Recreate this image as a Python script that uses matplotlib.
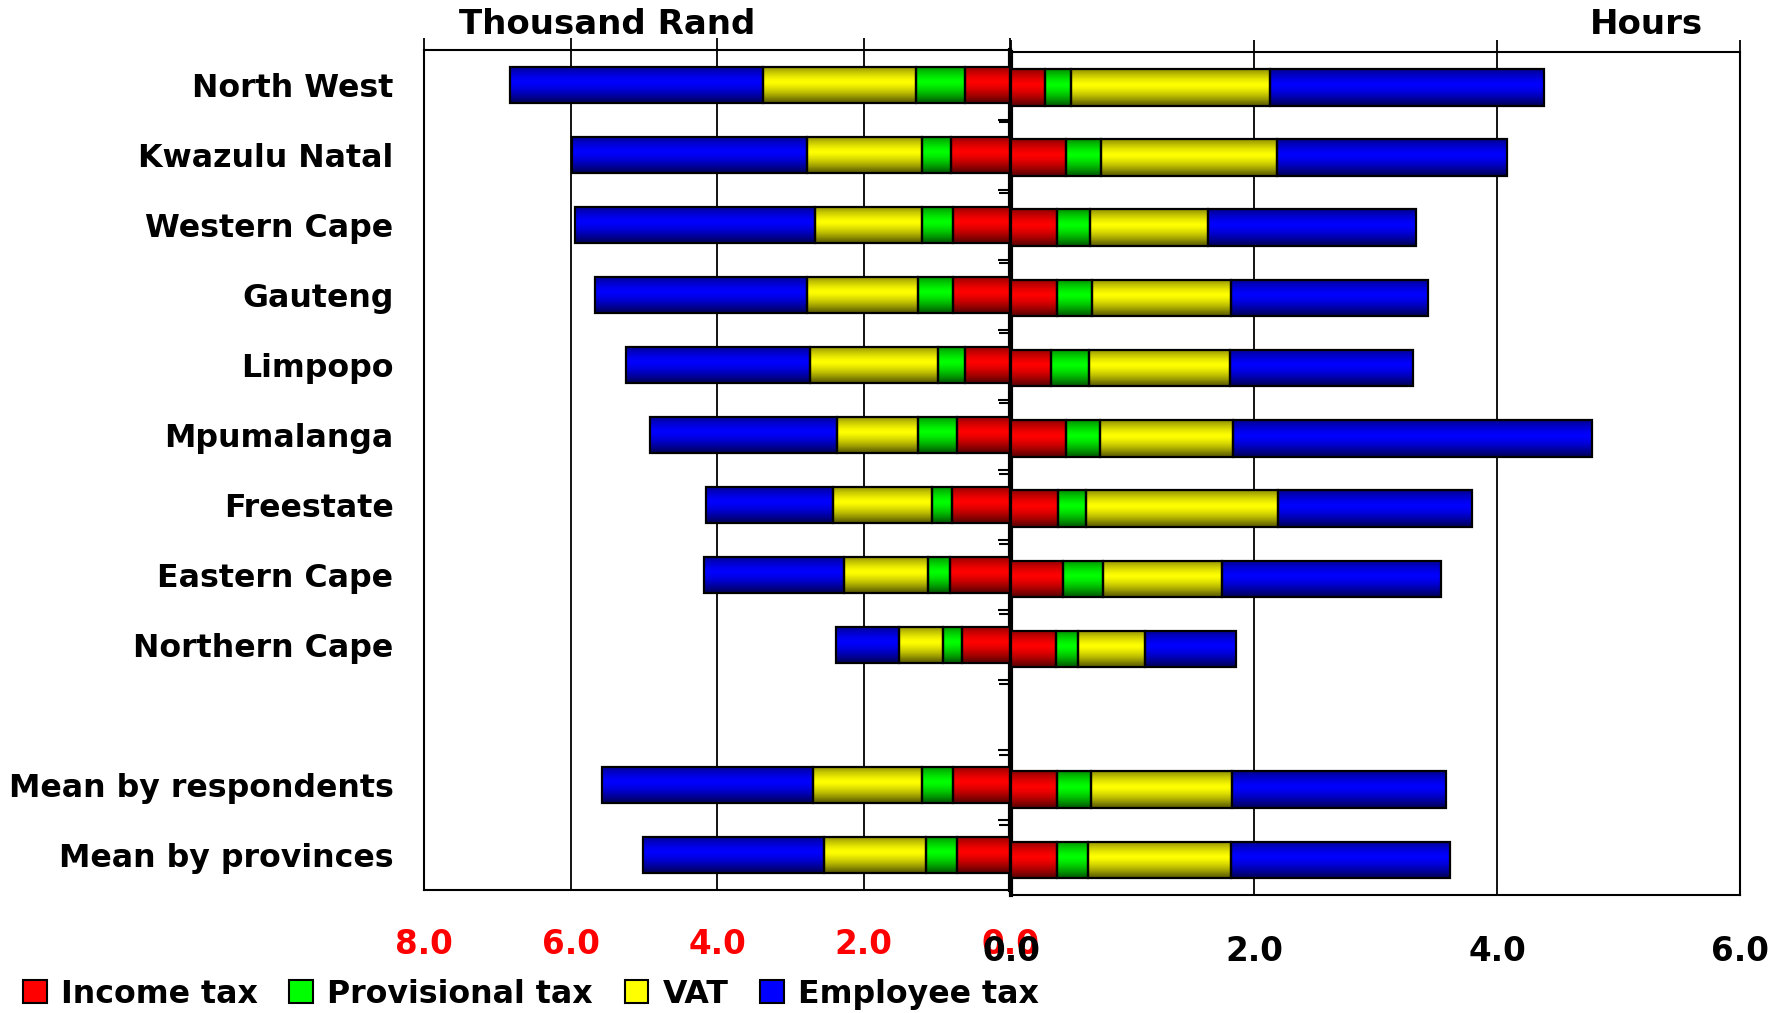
import numpy as np
import matplotlib.pyplot as plt
from matplotlib.patches import Patch

plt.rcParams['font.family'] = 'DejaVu Sans'
plt.rcParams['font.weight'] = 'bold'

regions = ['North West', 'Kwazulu Natal', 'Western Cape', 'Gauteng', 'Limpopo',
           'Mpumalanga', 'Freestate', 'Eastern Cape', 'Northern Cape',
           'Mean by respondents', 'Mean by provinces']
series = ['Income tax', 'Provisional tax', 'VAT', 'Employee tax']

# cost of compliance, thousand Rand
rand_income = [0.61, 0.81, 0.78, 0.78, 0.62, 0.72, 0.79, 0.82, 0.65, 0.78, 0.73]
rand_prov = [0.67, 0.39, 0.42, 0.48, 0.37, 0.53, 0.28, 0.30, 0.26, 0.42, 0.42]
rand_vat = [2.09, 1.57, 1.46, 1.51, 1.74, 1.11, 1.35, 1.15, 0.61, 1.49, 1.39]
rand_employee = [3.46, 3.21, 3.28, 2.89, 2.51, 2.55, 1.73, 1.91, 0.86, 2.88, 2.47]

# time spent on compliance, hours
hrs_income = [0.28, 0.45, 0.38, 0.38, 0.33, 0.45, 0.39, 0.43, 0.37, 0.38, 0.38]
hrs_prov = [0.21, 0.29, 0.27, 0.29, 0.31, 0.28, 0.23, 0.33, 0.18, 0.28, 0.25]
hrs_vat = [1.64, 1.45, 0.97, 1.14, 1.16, 1.10, 1.58, 0.98, 0.55, 1.16, 1.18]
hrs_employee = [2.26, 1.89, 1.71, 1.62, 1.51, 2.95, 1.59, 1.80, 0.75, 1.76, 1.80]

colors = ['#ff0000', '#00ff00', '#ffff00', '#0000ff']

# one empty slot between the provinces and the two means
slots = np.array(list(range(9)) + [10, 11]) + 0.5
bar_h = 0.52

fig = plt.figure(figsize=(17.87, 10.13), dpi=100)
ax_l = fig.add_axes([0.2373, 0.1214, 0.3279, 0.8292])
ax_r = fig.add_axes([0.5658, 0.1165, 0.4079, 0.8320])

t = np.linspace(0, 1, 64)
shade = 1 - 0.55 * np.abs(2 * t - 0.85) ** 1.4
shade = np.clip(shade, 0.4, 1)


def draw_stack(ax, parts):
    left = np.zeros(len(slots))
    for vals, col in zip(parts, colors):
        vals = np.asarray(vals)
        bars = ax.barh(slots, vals, left=left, height=bar_h, color='none',
                       edgecolor='black', linewidth=1.6, zorder=4)
        rgb = np.array(plt.matplotlib.colors.to_rgb(col))
        img = (shade[:, None, None] * rgb[None, None, :])
        for b in bars:
            x0, y0, w, h = b.get_x(), b.get_y(), b.get_width(), b.get_height()
            ax.imshow(img, extent=(x0, x0 + w, y0 + h, y0), origin='upper',
                      aspect='auto', interpolation='bilinear', zorder=3)
        left = left + vals


draw_stack(ax_l, [rand_income, rand_prov, rand_vat, rand_employee])
draw_stack(ax_r, [hrs_income, hrs_prov, hrs_vat, hrs_employee])

bounds = np.arange(1, 12)
for ax, lim, pad in ((ax_l, (8, 0), 18), (ax_r, (0, 6), 20)):
    ax.set_xlim(*lim)
    ax.set_ylim(12, 0)
    ax.set_xticks([0, 2, 4, 6, 8] if ax is ax_l else [0, 2, 4, 6])
    ax.xaxis.set_major_formatter(plt.FormatStrFormatter('%.1f'))
    ax.grid(axis='x', color='black', linewidth=1.3, zorder=1)
    ax.set_axisbelow(True)
    ax.tick_params(axis='x', bottom=False, top=True, labelbottom=True,
                   labeltop=False, direction='out', length=9, width=1.3,
                   labelsize=23.5, pad=pad)
    ax.set_yticks(bounds, minor=True)
    for s in ax.spines.values():
        s.set_linewidth(1.5)

ax_l.xaxis.set_tick_params(labelcolor='red')
ax_l.set_yticks(slots)
ax_l.set_yticklabels(regions, fontsize=22.8, fontweight='bold')
ax_l.tick_params(axis='y', which='major', length=0, pad=22)
ax_l.tick_params(axis='y', which='minor', left=False, right=True,
                 direction='in', length=9, width=1.5)
ax_l.spines['right'].set_linewidth(3)

ax_r.set_yticks([])
ax_r.set_yticks(bounds, minor=True)
ax_r.tick_params(axis='y', which='minor', left=True, right=False,
                 direction='out', length=9, width=1.5, labelleft=False)
ax_r.spines['left'].set_linewidth(3)

for lab in ax_l.get_xticklabels() + ax_r.get_xticklabels():
    lab.set_fontweight('bold')

fig.text(459 / 1787, 1 - 25 / 1013, 'Thousand Rand', ha='left', va='center',
         fontsize=24.5, fontweight='bold')
fig.text(1703 / 1787, 1 - 25 / 1013, 'Hours', ha='right', va='center',
         fontsize=24.5, fontweight='bold')

handles = [Patch(facecolor=c, edgecolor='black', linewidth=1.5) for c in colors]
fig.legend(handles, series, loc='center left', bbox_to_anchor=(0.0128, 1 - 994 / 1013),
           ncol=4, frameon=False, handlelength=0.75, handleheight=0.75,
           handletextpad=0.45, columnspacing=1.0, borderaxespad=0, borderpad=0,
           prop={'size': 22.8, 'weight': 'bold'})

fig.savefig('out.png', dpi=100)
